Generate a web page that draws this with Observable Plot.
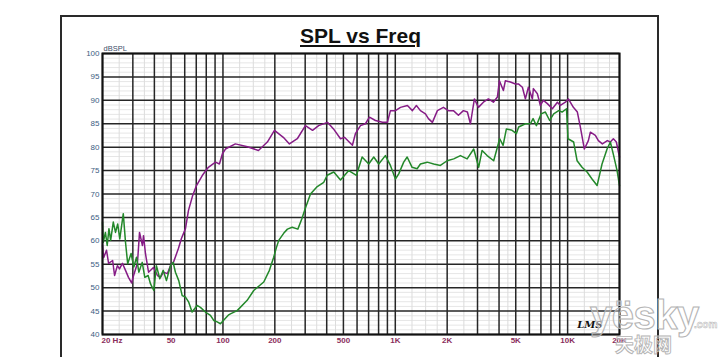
<!DOCTYPE html>
<html>
<head>
<meta charset="utf-8">
<script src="https://cdn.jsdelivr.net/npm/d3@7"></script>
<script src="https://cdn.jsdelivr.net/npm/@observablehq/plot@0.6"></script>
<style>
  html, body { margin: 0; padding: 0; background: #fff; }
  body { width: 720px; height: 357px; overflow: hidden; position: relative; font-family: "Liberation Sans", Arial, sans-serif; }
  #outer { position: absolute; left: 60px; top: 15px; width: 595px; height: 400px; border: 2px solid #2a2a2a; border-bottom: none; }
  #title { position: absolute; left: 0; top: 25px; width: 721px; text-align: center; font: bold 21px/21px "Liberation Sans", Arial, sans-serif; color: #111;
           text-decoration: underline; text-decoration-thickness: 2px; text-underline-offset: 2px; }
  #chart { position: absolute; left: 0; top: 0; }
  .wm { position: absolute; color: rgba(255,255,255,0.35); -webkit-text-stroke: 1.1px #b4b4b4; font-family: "Liberation Sans", Arial, sans-serif; font-weight: bold; white-space: nowrap; }
  #wm1 { left: 590px; top: 295px; font-size: 40px; line-height: 40px; letter-spacing: -0.5px; }
  #wm2 { left: 615px; top: 333px; font-size: 19px; line-height: 21px; font-family: "Noto Sans CJK SC", sans-serif; -webkit-text-stroke: 0.9px #b4b4b4; }
  #wm3 { left: 694px; top: 319px; font-size: 10px; line-height: 12px; -webkit-text-stroke: 0.5px #b4b4b4; }
</style>
</head>
<body>
<div id="chart"></div>
<div id="outer"></div>
<div id="title">SPL vs Freq</div>
<div class="wm" id="wm1">yësky</div>
<div class="wm" id="wm2">天极网</div>
<div class="wm" id="wm3">.com</div>
<script>
// Purple curve
const purpleFreq = [20,20.3,21.1,21.7,22.9,23.5,24.4,25.1,26.1,27.2,28.3,29.5,30.3,31.9,32.8,34.1,34.6,35.5,37.0,39.5,41.7,43.4,45.2,47.6,49.6,51.6,55.2,57.4,60.6,63.1,66.5,70.2,76.0,82.3,90.5,95.4,99.3,103.4,118,138.7,160.7,181,199,224,243,270,301,331,359,404,438,481,507,564,587,628,671,708,767,842,900,937,1002,1072,1176,1257,1326,1399,1496,1557,1642,1755,1902,2034,2174,2324,2485,2621,2729,2878,3036,3245,3469,3709,3913,4019,4239,4354,4655,4977,5180,5464,5687,5920,6245,6329,6676,6949,7233,7630,8157,8721,9077,9703,10100,10798,11390,11856,12507,13194,13551,14486,15079,15905,17004,17699,18423,19176,20000];
const purpleDb = [59,56.4,58,55.2,55.8,52.6,54.7,54,55.2,53.7,52.2,51,52.6,55.2,61.8,59,61.1,57.3,53.3,54.3,52.6,52.2,53.3,53,54.7,55.4,58.4,60.5,62.6,66.5,69.5,71.8,74,75.7,76.8,76.4,78.6,79.6,80.7,80.1,79.3,81.1,83.6,82.1,80.7,81.8,84.6,83.6,84.6,85.3,83.9,81.8,82.1,80.4,82.9,84.6,85,86.4,85.7,85.3,85.3,87.8,87.8,88.5,88.9,87.8,88.9,87.8,87.1,86.1,85.3,87.8,88.5,87.8,87.8,86.8,87.8,87.5,85,90.3,88.5,89.6,90.3,89.6,90.7,94.2,92.1,94.2,93.9,93.5,93.5,92.8,90.3,92.8,90.3,92.5,91.4,88.9,90,89.3,88.2,89.6,88.9,89.6,90.3,88.5,87.5,84.3,79.6,81.4,83.2,82.5,81.4,80.7,81.4,81.1,81.8,81.1,77.9];

// Green curve
const greenFreq = [20,20.2,20.8,21.3,21.8,22.3,23.1,23.8,24.5,25.2,26.4,27.2,28.0,29.3,30.4,31.5,32.5,34.0,35.2,36.8,38.0,39.7,41.1,43.0,45.0,47.0,49.6,51.4,53.0,55.4,58.0,60.6,63.3,66.2,70.8,74.0,79.1,84.6,88.4,92.6,96.7,100.6,108,110.5,120.9,138.2,150.9,172.5,186,197,204,210.7,225,236.7,252,272,287,301,322,352.6,384.6,402.6,439.6,481,537,595,642,701.5,750,801.6,876,937,1002,1047,1119,1172,1252,1339,1399,1531,1671,1827,1999,2183,2387,2612,2851,3047,3189,3411,3724,4036,4222,4413,4760,5044,5200,5687,6080,6304,6588,7014,7429,7868,8300,8872,9287,9850,10050,10840,11349,12124,12971,13857,14824,15837,16942,17699,18496,19363,20000];
const greenDb = [64,59.7,61.8,59,62.6,60.1,64,61.8,63.6,60.4,65.8,59.7,55.1,57.3,54.4,56.5,53.3,55.4,52.2,52.6,50.8,49.4,54.7,51.9,53.7,51.5,54.7,55.4,53.3,51.5,48.3,48,46.9,44.8,46.2,45.8,44.8,44.1,43,42.7,42.3,43,44.2,44.4,45.1,47.3,49.4,51.2,53.7,56.5,58.5,60.1,61.6,62.5,62.9,62.5,64.7,67,70,71.6,72.5,74,74.7,73,75,74,77.9,76.4,77.9,76.4,78.2,76.1,73.2,74.3,76.8,77.9,75.7,75.4,76.4,76.8,76.4,76.1,77.1,77.5,78.2,77.5,79.6,75.7,79.3,78.2,77.1,81.8,80.4,83.9,83.6,82.9,84.3,85,85,86.1,84.6,87.1,87.5,85.7,87.1,87.8,87.5,88.2,81.8,81.1,77.1,75.7,74.7,73.2,71.8,76.4,79.6,81.1,78.2,75,71.8];

// Axis ticks / labels
const yTicks = [40,45,50,55,60,65,70,75,80,85,90,95,100];
const xTickValues = [20,50,100,200,500,1000,2000,5000,10000,20000];
const xTickLabels = ["20 Hz","50","100","200","500","1K","2K","5K","10K","20K"];
const majorFreqs = [20,30,40,50,60,70,80,90,100,200,300,400,500,600,700,800,900,1000,2000,3000,4000,5000,6000,7000,8000,9000,10000,20000];
const minorSteps = [1.25,1.5,1.75,2.5,3.5,4.5];
const decades = [10,100,1000,10000];
const minorFreqs = decades.flatMap(d => minorSteps.map(s => s * d)).filter(f => f > 20 && f < 20000);
const minorDb = d3.range(40, 101).filter(v => v % 5 !== 0);

const toRows = (fs, ds) => fs.slice(0, Math.min(fs.length, ds.length)).map((f, i) => ({f, db: ds[i]}));
const purple = toRows(purpleFreq, purpleDb);
const green = toRows(greenFreq, greenDb);
const xLabels = xTickValues.map((v, i) => ({v, label: xTickLabels[i]}));

const font = "Liberation Sans, Arial, sans-serif";
const chart = Plot.plot({
  width: 720,
  height: 357,
  marginLeft: 102,
  marginRight: 101,
  marginTop: 53,
  marginBottom: 23,
  style: {fontFamily: font, background: "transparent", overflow: "visible"},
  x: {type: "log", domain: [20, 20000], axis: null},
  y: {domain: [40, 100]},
  marks: [
    Plot.ruleY(minorDb, {stroke: "#e6e6e6", strokeWidth: 1}),
    Plot.ruleX(minorFreqs, {stroke: "#dcdcdc", strokeWidth: 1}),
    Plot.ruleY(yTicks, {stroke: "#262626", strokeWidth: 1.5}),
    Plot.ruleX(majorFreqs, {stroke: "#262626", strokeWidth: 1.5}),
    Plot.line(purple, {x: "f", y: "db", stroke: "#861c86", strokeWidth: 1.5}),
    Plot.line(green, {x: "f", y: "db", stroke: "#23882a", strokeWidth: 1.5}),
    Plot.frame({stroke: "#111", strokeWidth: 2}),
    Plot.axisY({ticks: yTicks, tickSize: 0, tickPadding: 3, fontSize: 8, fill: "#3b5c82", label: null}),
    Plot.text(xLabels.slice(1), {x: "v", text: "label", frameAnchor: "bottom", textAnchor: "middle", lineAnchor: "top", dy: 3, fontSize: 8, fontWeight: "bold", fill: "#8a2d5c"}),
    Plot.text(xLabels.slice(0, 1), {x: "v", text: "label", frameAnchor: "bottom", textAnchor: "start", lineAnchor: "top", dy: 3, dx: -1, fontSize: 8, fontWeight: "bold", fill: "#8a2d5c"}),
    Plot.text(["dBSPL"], {frameAnchor: "top-left", textAnchor: "start", lineAnchor: "bottom", dx: 1, dy: -3, fontSize: 7.5, fill: "#3a4d68"}),
    Plot.text(["LMS"], {frameAnchor: "bottom-right", textAnchor: "end", lineAnchor: "bottom", dx: -17, dy: -7, fontSize: 10, fontStyle: "italic", fontWeight: "bold", fill: "#111", fontFamily: "DejaVu Serif, serif"})
  ]
});
document.getElementById("chart").append(chart);
</script>
</body>
</html>
